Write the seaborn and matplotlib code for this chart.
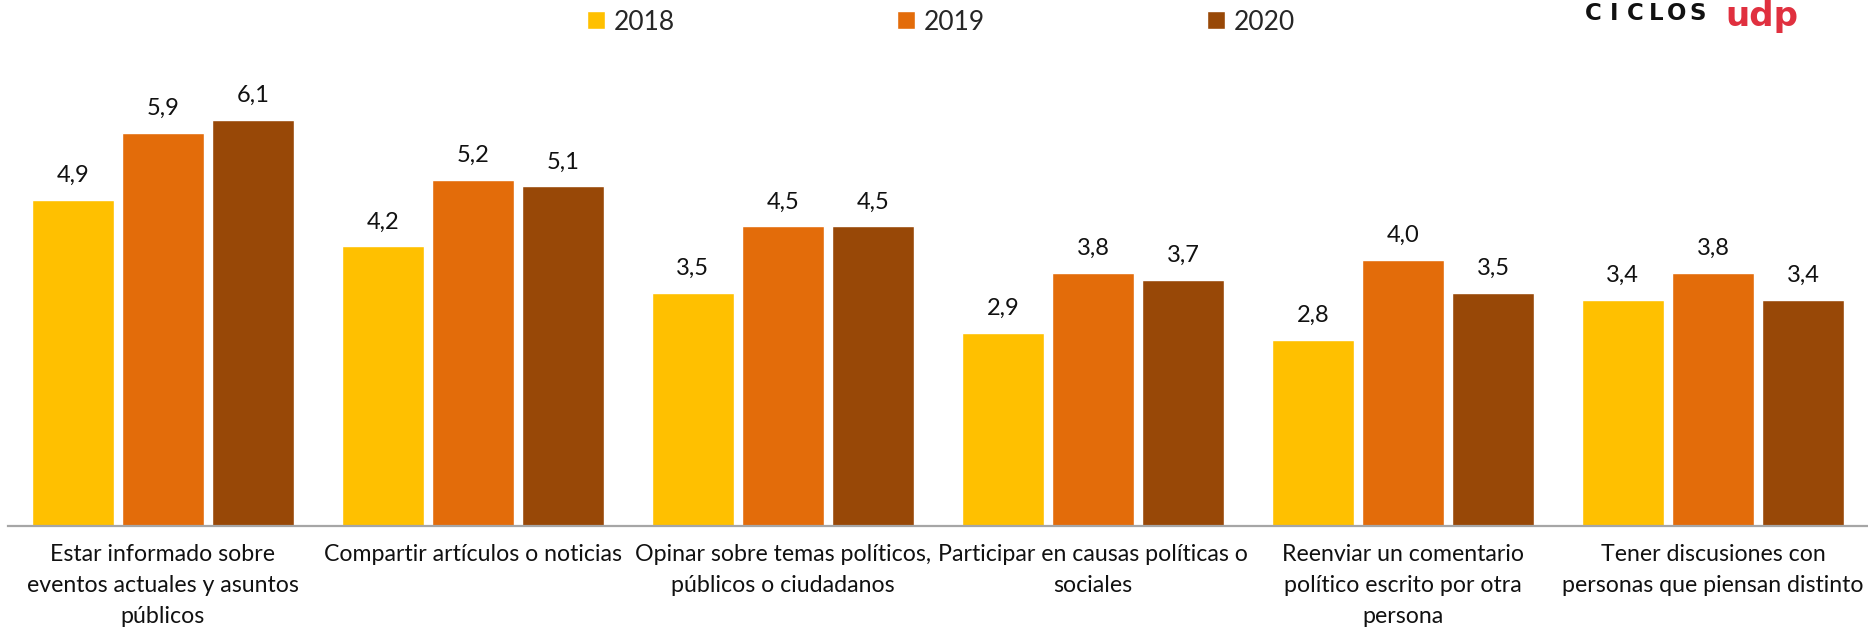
import matplotlib
matplotlib.use("Agg")
import matplotlib.pyplot as plt
import seaborn as sns
import pandas as pd

categories = [
    "Estar informado sobre\neventos actuales y asuntos\npúblicos",
    "Compartir artículos o noticias",
    "Opinar sobre temas políticos,\npúblicos o ciudadanos",
    "Participar en causas políticas o\nsociales",
    "Reenviar un comentario\npolítico escrito por otra\npersona",
    "Tener discusiones con\npersonas que piensan distinto",
]
years = ["2018", "2019", "2020"]
values_2018 = [4.9, 4.2, 3.5, 2.9, 2.8, 3.4]
values_2019 = [5.9, 5.2, 4.5, 3.8, 4.0, 3.8]
values_2020 = [6.1, 5.1, 4.5, 3.7, 3.5, 3.4]
colors = ["#FFC000", "#E36C0A", "#984807"]

rows = []
for yr, vals in zip(years, [values_2018, values_2019, values_2020]):
    for c, v in zip(categories, vals):
        rows.append({"cat": c, "year": yr, "value": v})
df = pd.DataFrame(rows)

sns.set_theme(style="white")
plt.rcParams["font.family"] = ["Lato", "DejaVu Sans"]

W, H = 1868, 628
fig = plt.figure(figsize=(W / 100, H / 100), dpi=100)
ax = fig.add_axes([8 / W, (H - 526) / H, 1 - 8 / W, 466 / H])

sns.barplot(data=df, x="cat", y="value", hue="year", order=categories,
            hue_order=years, palette=colors, width=0.873, gap=0.09,
            saturation=1, ax=ax, legend=True, errorbar=None)

ax.set_ylim(0, 466 / 66.6)
ax.set_xlim(-0.5, len(categories) - 0.5)
ax.set_xlabel("")
ax.set_ylabel("")
ax.set_yticks([])
for s in ["top", "right", "left"]:
    ax.spines[s].set_visible(False)
ax.spines["bottom"].set_color("#A6A6A6")
ax.spines["bottom"].set_linewidth(1.6)
ax.tick_params(axis="x", length=0, pad=13, labelsize=16.7, colors="#111111")
for t in ax.get_xticklabels():
    t.set_linespacing(1.58)
    t.set_multialignment("center")

for cont, vals in zip(ax.containers, [values_2018, values_2019, values_2020]):
    ax.bar_label(cont, labels=[f"{v:.1f}".replace(".", ",") for v in vals],
                 padding=10, fontsize=17, color="#111111")

handles, labels = ax.get_legend_handles_labels()
ax.legend_.remove()
fig.legend(handles, labels, loc="center", bbox_to_anchor=(941 / W, 1 - 22 / H),
           ncol=3, frameon=False, fontsize=19, handlelength=0.68, handleheight=0.68,
           handletextpad=0.34, columnspacing=8.4)

logo_letters = "CICLOS"
for i, ch in enumerate(logo_letters):
    fig.text((1593 + i * 21.0) / W, 1 - 14 / H, ch, fontsize=16.5, fontweight="heavy",
             family="DejaVu Sans", color="#111111", ha="center", va="center")
fig.text(1725 / W, 1 - 26 / H, "udp", fontsize=24.5, fontweight="bold",
         family="DejaVu Sans", color="#E0303F", ha="left", va="baseline")

fig.savefig("out.png", dpi=100)
